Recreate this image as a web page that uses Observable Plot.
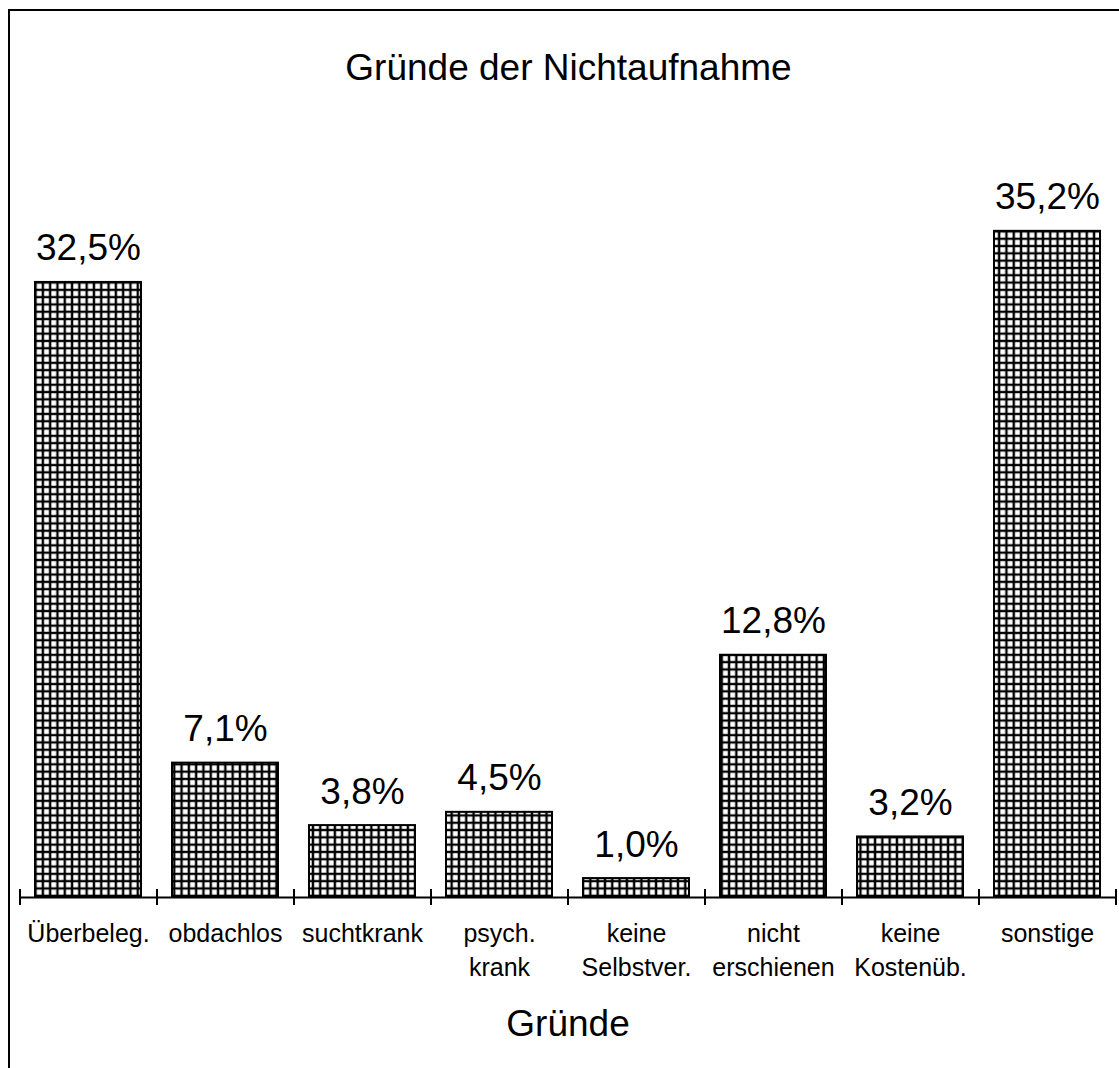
<!DOCTYPE html>
<html>
<head>
<meta charset="utf-8">
<script src="https://cdn.jsdelivr.net/npm/d3@7"></script>
<script src="https://cdn.jsdelivr.net/npm/@observablehq/plot@0.6"></script>
<style>
  html, body { margin: 0; padding: 0; background: #fff; overflow: hidden; }
  #frame {
    position: absolute; left: 8px; top: 9px;
    width: 1111px; height: 1059px;
    border-left: 2px solid #000; border-top: 2px solid #000;
    font-family: "Liberation Sans", Arial, sans-serif;
  }
  #title {
    box-sizing: border-box; height: 100px; padding-top: 38px;
    font-size: 37px; line-height: 37px; text-align: center; color: #000;
    padding-left: 6px;
  }
</style>
</head>
<body>
<div id="frame">
  <div id="title">Gründe der Nichtaufnahme</div>
  <div id="chart"></div>
</div>
<script>
const categories = ["Überbeleg.", "obdachlos", "suchtkrank", "psych.\nkrank", "keine\nSelbstver.", "nicht\nerschienen", "keine\nKostenüb.", "sonstige"];
const values = [32.5, 7.1, 3.8, 4.5, 1.0, 12.8, 3.2, 35.2];
const axisTitle = "Gründe";

const data = categories.map((c, i) => ({cat: c, i, v: values[i], label: values[i].toFixed(1).replace(".", ",") + "%"}));
const boundaries = d3.range(categories.length + 1);
const font = "Liberation Sans, Arial, sans-serif";

const svg = Plot.plot({
  width: 1109,
  height: 957,
  marginLeft: 9.5,
  marginRight: 3.5,
  marginTop: 29,
  marginBottom: 171,
  style: {fontFamily: font, background: "white", color: "black"},
  x: {type: "linear", domain: [0, categories.length], axis: null},
  y: {domain: [0, 40], axis: null},
  marks: [
    Plot.rectY(data, {x1: "i", x2: d => d.i + 1, y1: 0, y2: "v", insetLeft: 15.5, insetRight: 15.5, fill: "url(#grid)", stroke: "black", strokeWidth: 2}),
    Plot.ruleY([0], {stroke: "black", strokeWidth: 2}),
    Plot.ruleX(boundaries, {x: d => d, y1: 0, y2: 0, insetTop: 8, insetBottom: 8, stroke: "black", strokeWidth: 2}),
    Plot.text(data, {x: d => d.i + 0.5, y: "v", text: "label", fontSize: 37, lineAnchor: "bottom", dy: -22, fill: "black"}),
    Plot.text(data, {x: d => d.i + 0.5, y: 0, text: "cat", fontSize: 25, lineAnchor: "top", lineHeight: 1.36, dy: 20, fill: "black"}),
    Plot.text([axisTitle], {x: categories.length / 2, y: 0, text: d => d, fontSize: 37, lineAnchor: "bottom", dy: 138, fill: "black"})
  ]
});

const defs = d3.select(svg).insert("defs", ":first-child");
const pat = defs.append("pattern").attr("id", "grid").attr("patternUnits", "userSpaceOnUse")
  .attr("width", 7.3).attr("height", 7.3);
pat.append("rect").attr("width", 7.3).attr("height", 7.3).attr("fill", "white");
pat.append("path").attr("d", "M0 3.65H7.3M3.65 0V7.3").attr("stroke", "black").attr("stroke-width", 2.4);

document.getElementById("chart").appendChild(svg);
</script>
</body>
</html>
